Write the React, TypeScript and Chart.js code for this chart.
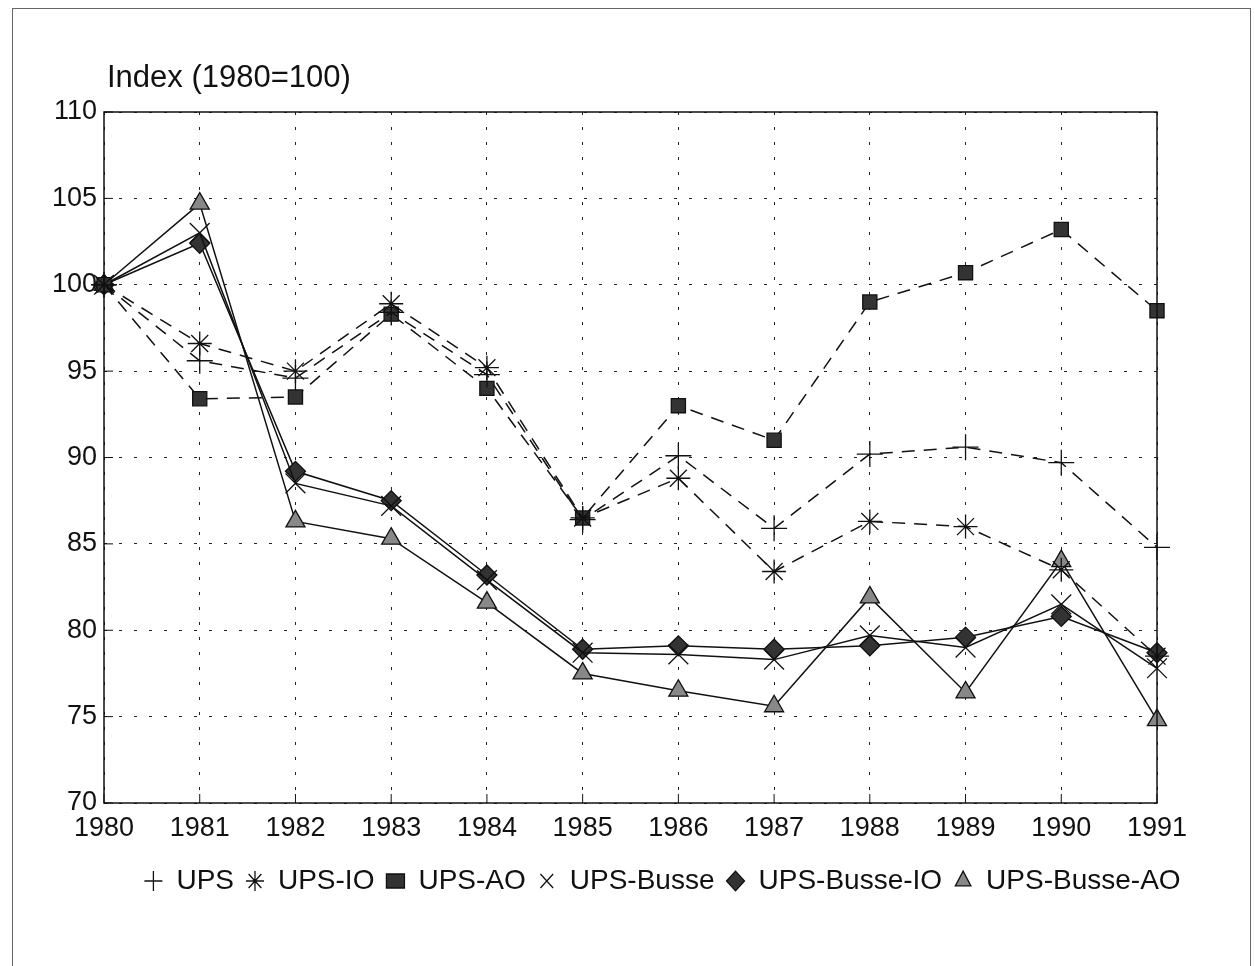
import React, { useEffect, useRef } from "react";
import { Chart, registerables } from "chart.js";

Chart.register(...registerables);

const years = ["1980", "1981", "1982", "1983", "1984", "1985", "1986", "1987", "1988", "1989", "1990", "1991"];
const ups = [100, 95.6, 94.6, 98.4, 94.8, 86.4, 90.1, 85.9, 90.2, 90.6, 89.7, 84.8];
const upsIO = [100, 96.6, 95.0, 98.9, 95.2, 86.5, 88.8, 83.4, 86.3, 86.0, 83.5, 78.5];
const upsAO = [100, 93.4, 93.5, 98.3, 94.0, 86.5, 93.0, 91.0, 99.0, 100.7, 103.2, 98.5];
const upsBusse = [100, 103.0, 88.5, 87.2, 82.9, 78.7, 78.6, 78.3, 79.7, 79.0, 81.5, 77.8];
const upsBusseIO = [100, 102.4, 89.2, 87.5, 83.2, 78.9, 79.1, 78.9, 79.1, 79.6, 80.8, 78.7];
const upsBusseAO = [100, 104.7, 86.3, 85.3, 81.6, 77.5, 76.5, 75.6, 81.9, 76.4, 84.0, 74.8];
const yTicks = [70, 75, 80, 85, 90, 95, 100, 105, 110];
const titleText = "Index (1980=100)";

const FONT = "'Liberation Sans', Arial, Helvetica, sans-serif";

const framePlugin = {
  id: "frame",
  afterLayout(chart: any) {
    const lg = chart.legend;
    if (lg) {
      lg.left += 62;
      lg.right += 62;
    }
  },
  beforeDraw(chart: any) {
    const ctx = chart.ctx;
    ctx.save();
    ctx.fillStyle = "#fff";
    ctx.fillRect(0, 0, chart.width, chart.height);
    ctx.strokeStyle = "#666";
    ctx.lineWidth = 1;
    ctx.strokeRect(12.5, 8.5, 1238, 1000);
    ctx.restore();
  },
  afterDraw(chart: any) {
    const { ctx, chartArea } = chart;
    const xs = chart.scales.x;
    const ys = chart.scales.y;
    ctx.save();
    ctx.strokeStyle = "#111";
    ctx.lineWidth = 1.5;
    ctx.setLineDash([]);
    ctx.strokeRect(chartArea.left, chartArea.top, chartArea.right - chartArea.left, chartArea.bottom - chartArea.top);
    ctx.lineWidth = 1;
    ctx.beginPath();
    for (let i = 0; i < years.length; i++) {
      const px = xs.getPixelForValue(i);
      ctx.moveTo(px, chartArea.bottom);
      ctx.lineTo(px, chartArea.bottom - 9);
    }
    for (const v of yTicks) {
      const py = ys.getPixelForValue(v);
      ctx.moveTo(chartArea.left, py);
      ctx.lineTo(chartArea.left + 9, py);
    }
    ctx.stroke();
    ctx.fillStyle = "#111";
    ctx.font = "31px " + FONT;
    ctx.textAlign = "left";
    ctx.textBaseline = "middle";
    ctx.fillText(titleText, 107, 78);
    ctx.restore();
  },
};

export default function App() {
  const ref = useRef<HTMLCanvasElement>(null);
  useEffect(() => {
    if (!ref.current) return;
    Chart.defaults.font.family = FONT;
    Chart.defaults.color = "#111";
    const dashed = [13, 9];
    const mk = (label: string, data: number[], style: string, radius: number, dash: number[], bg: string) => ({
      label,
      data,
      borderColor: "#111",
      borderWidth: 1.5,
      borderDash: dash,
      pointStyle: style,
      pointRadius: radius,
      pointHoverRadius: radius,
      pointBackgroundColor: bg,
      pointBorderColor: "#111",
      pointBorderWidth: 1.3,
      fill: false,
      tension: 0,
    });
    const chart = new Chart(ref.current, {
      type: "line",
      data: {
        labels: years,
        datasets: [
          mk("UPS", ups, "cross", 13, dashed, "#111"),
          mk("UPS-IO", upsIO, "star", 12, dashed, "#111"),
          mk("UPS-AO", upsAO, "rect", 10, dashed, "#333"),
          mk("UPS-Busse", upsBusse, "crossRot", 14, [], "#111"),
          mk("UPS-Busse-IO", upsBusseIO, "rectRot", 10, [], "#333"),
          mk("UPS-Busse-AO", upsBusseAO, "triangle", 11, [], "#888"),
        ] as any,
      },
      plugins: [framePlugin],
      options: {
        responsive: false,
        animation: false,
        events: [],
        layout: { padding: { left: 44, right: 98, top: 112, bottom: 61 } },
        scales: {
          x: {
            type: "category",
            offset: false,
            grid: { color: "#222", lineWidth: 1, drawTicks: false },
            border: { display: false, dash: [3, 12] },
            ticks: { font: { size: 27 }, color: "#111", padding: 9, maxRotation: 0, autoSkip: false },
            afterFit: (s: any) => { s.height = 52; },
          },
          y: {
            min: 70,
            max: 110,
            grid: { color: "#222", lineWidth: 1, drawTicks: false },
            border: { display: false, dash: [3, 12] },
            ticks: { stepSize: 5, font: { size: 27 }, color: "#111", padding: 7 },
            afterFit: (s: any) => { s.width = 60; },
          },
        },
        plugins: {
          tooltip: { enabled: false },
          title: { display: false },
          legend: {
            display: true,
            position: "bottom",
            labels: {
              usePointStyle: true,
              pointStyleWidth: 18,
              boxHeight: 14,
              padding: 12,
              color: "#111",
              font: { size: 28 },
              generateLabels: (c: any) => {
                const items = Chart.defaults.plugins.legend.labels.generateLabels(c);
                return items.map((it: any) => ({ ...it, lineDash: [], lineWidth: 1.3 }));
              },
            },
          },
        },
      } as any,
    });
    return () => chart.destroy();
  }, []);
  return (
    <div style={{ position: "fixed", left: 0, top: 0, width: 1255, height: 966, background: "#fff" }}>
      <canvas ref={ref} width={1255} height={966} style={{ display: "block" }} />
    </div>
  );
}
